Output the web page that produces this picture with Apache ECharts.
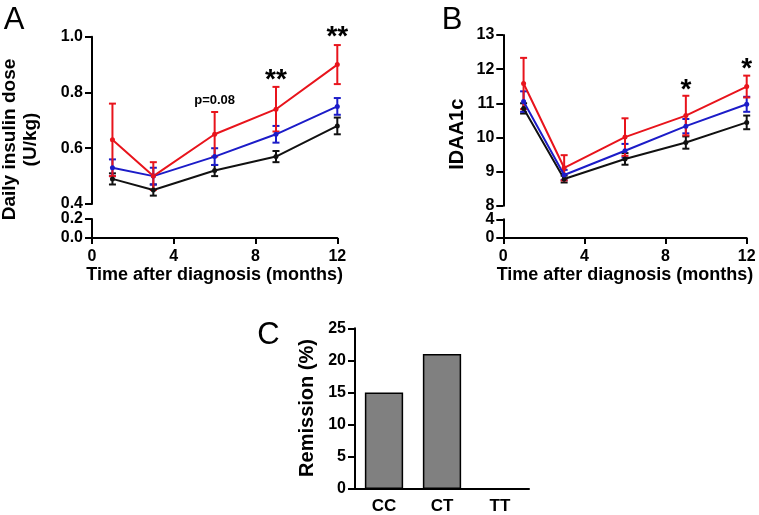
<!DOCTYPE html>
<html>
<head>
<meta charset="utf-8">
<script src="https://cdn.jsdelivr.net/npm/echarts@6/dist/echarts.min.js"></script>
<style>
html,body{margin:0;padding:0;background:#fff;}
#c{width:759px;height:515px;}
</style>
</head>
<body>
<div id="c"></div>
<script>
// ---- Data ----
const months = [1, 3, 6, 9, 12];
// Panel A: daily insulin dose (U/kg)
const aBlackMean = [0.49, 0.45, 0.52, 0.57, 0.68];
const aBlackErr  = [0.02, 0.02, 0.02, 0.02, 0.03];
const aBlueMean  = [0.53, 0.50, 0.57, 0.65, 0.75];
const aBlueErr   = [0.03, 0.03, 0.03, 0.03, 0.03];
const aRedMean   = [0.63, 0.50, 0.65, 0.74, 0.90];
const aRedErr    = [0.13, 0.05, 0.08, 0.08, 0.07];
const aNoteX = [6, 9, 12];
const aNoteY = [0.773, 0.842, 0.998];
const aNoteText = ['p=0.08', '**', '**'];
// Panel B: IDAA1c
const bBlackMean = [10.85, 8.78, 9.37, 9.85, 10.44];
const bBlackErr  = [0.15, 0.10, 0.17, 0.18, 0.20];
const bBlueMean  = [11.05, 8.90, 9.61, 10.33, 10.97];
const bBlueErr   = [0.30, 0.15, 0.20, 0.21, 0.22];
const bRedMean   = [11.58, 9.11, 10.01, 10.64, 11.49];
const bRedErr    = [0.75, 0.37, 0.55, 0.58, 0.32];
const bNoteX = [9, 12];
const bNoteY = [11.37, 12.0];
const bNoteText = ['*', '*'];
// Panel C: remission (%)
const genotypes = ['CC', 'CT', 'TT'];
const remission = [15, 21, 0];
// Tick settings
const xTicks = {min: 0, max: 12, interval: 4};

const FONT = '"Liberation Sans", Arial, Helvetica, sans-serif';
const RED = '#e8141c', BLUE = '#1c1cc8', BLACK = '#111111';

const chart = echarts.init(document.getElementById('c'), null, {renderer: 'canvas'});

function lineData(mean) { return months.map((m, i) => [m, mean[i]]); }
function errData(mean, err) { return months.map((m, i) => [m, mean[i] - err[i], mean[i] + err[i]]); }
function errSeries(mean, err, color, gi) {
  return {
    type: 'custom', xAxisIndex: gi, yAxisIndex: gi, z: 3,
    data: errData(mean, err),
    encode: {x: 0, y: [1, 2]},
    renderItem: function (params, api) {
      const x = api.value(0);
      const p1 = api.coord([x, api.value(2)]);
      const p2 = api.coord([x, api.value(1)]);
      const w = 3.5;
      const st = {stroke: color, lineWidth: 2};
      return {type: 'group', children: [
        {type: 'line', shape: {x1: p1[0], y1: p1[1], x2: p2[0], y2: p2[1]}, style: st},
        {type: 'line', shape: {x1: p1[0] - w, y1: p1[1], x2: p1[0] + w, y2: p1[1]}, style: st},
        {type: 'line', shape: {x1: p2[0] - w, y1: p2[1], x2: p2[0] + w, y2: p2[1]}, style: st}
      ]};
    },
    silent: true
  };
}
function lineSeries(mean, color, gi) {
  return {
    type: 'line', xAxisIndex: gi, yAxisIndex: gi, z: 4,
    data: lineData(mean),
    symbol: 'circle', symbolSize: 5,
    itemStyle: {color: color},
    lineStyle: {color: color, width: 2},
    animation: false
  };
}
function noteSeries(xs, ys, texts, gi, size) {
  return {
    type: 'scatter', xAxisIndex: gi, yAxisIndex: gi, z: 6,
    symbolSize: 0, clip: false,
    itemStyle: {opacity: 1},
    data: xs.map((x, i) => [x, ys[i], texts[i]]),
    label: {
      show: true, position: 'inside', opacity: 1,
      formatter: p => p.value[2],
      color: '#000', fontFamily: FONT, fontWeight: 'bold',
      fontSize: size
    }
  };
}
function notes(xs, ys, texts, gi) {
  const out = [];
  const starIdx = [], pIdx = [];
  texts.forEach((t, i) => (t.indexOf('*') >= 0 ? starIdx : pIdx).push(i));
  if (starIdx.length) out.push(noteSeries(starIdx.map(i => xs[i]), starIdx.map(i => ys[i]), starIdx.map(i => texts[i]), gi, 28));
  if (pIdx.length) out.push(noteSeries(pIdx.map(i => xs[i]), pIdx.map(i => ys[i]), pIdx.map(i => texts[i]), gi, 13));
  return out;
}

const axisLine = {show: true, onZero: false, lineStyle: {color: '#000', width: 2}};
const axisTick = {show: true, inside: false, length: 7, lineStyle: {color: '#000', width: 2}};
const tickLabel = {color: '#000', fontFamily: FONT, fontWeight: 'bold', fontSize: 16};

function upperX(gi) {
  return {type: 'value', gridIndex: gi, min: xTicks.min, max: xTicks.max, interval: xTicks.interval, show: false};
}
function lowerX(gi) {
  return {
    type: 'value', gridIndex: gi, min: xTicks.min, max: xTicks.max, interval: xTicks.interval,
    axisLine: axisLine, axisTick: Object.assign({}, axisTick, {length: 6}),
    axisLabel: Object.assign({}, tickLabel, {margin: 11}),
    splitLine: {show: false},
    name: 'Time after diagnosis (months)', nameLocation: 'middle', nameGap: 27,
    nameTextStyle: {color: '#000', fontFamily: FONT, fontWeight: 'bold', fontSize: 18}
  };
}
function yAx(gi, min, max, interval, fmt) {
  return {
    type: 'value', gridIndex: gi, min: min, max: max, interval: interval,
    axisLine: axisLine, axisTick: axisTick,
    axisLabel: Object.assign({}, tickLabel, {margin: 9, formatter: fmt}),
    splitLine: {show: false}
  };
}

const option = {
  backgroundColor: '#fff',
  animation: false,
  grid: [
    {left: 92, top: 36.7, width: 245.3, height: 167.3},   // 0: A upper
    {left: 92, top: 219, width: 245.3, height: 19},       // 1: A lower
    {left: 503.3, top: 35, width: 243.4, height: 170.7},  // 2: B upper
    {left: 503.3, top: 219.3, width: 243.4, height: 18.7},// 3: B lower
    {left: 355, top: 328.3, width: 174, height: 161.7}    // 4: C
  ],
  xAxis: [
    upperX(0), lowerX(1), upperX(2), lowerX(3),
    {
      type: 'category', gridIndex: 4, data: genotypes,
      axisLine: axisLine, axisTick: {show: false},
      axisLabel: Object.assign({}, tickLabel, {fontSize: 17, margin: 9})
    }
  ],
  yAxis: [
    yAx(0, 0.4, 1.0, 0.2, v => v.toFixed(1)),
    yAx(1, 0, 0.2, 0.2, v => v.toFixed(1)),
    yAx(2, 8, 13, 1, v => String(v)),
    yAx(3, 0, 4, 4, v => String(v)),
    yAx(4, 0, 25, 5, v => String(v))
  ],
  series: [
    errSeries(aBlackMean, aBlackErr, BLACK, 0), lineSeries(aBlackMean, BLACK, 0),
    errSeries(aBlueMean, aBlueErr, BLUE, 0), lineSeries(aBlueMean, BLUE, 0),
    errSeries(aRedMean, aRedErr, RED, 0), lineSeries(aRedMean, RED, 0),
    ...notes(aNoteX, aNoteY, aNoteText, 0),
    errSeries(bBlackMean, bBlackErr, BLACK, 2), lineSeries(bBlackMean, BLACK, 2),
    errSeries(bBlueMean, bBlueErr, BLUE, 2), lineSeries(bBlueMean, BLUE, 2),
    errSeries(bRedMean, bRedErr, RED, 2), lineSeries(bRedMean, RED, 2),
    ...notes(bNoteX, bNoteY, bNoteText, 2),
    {
      type: 'bar', xAxisIndex: 4, yAxisIndex: 4, data: remission,
      barWidth: '66%',
      itemStyle: {color: '#808080', borderColor: '#000', borderWidth: 1.5}
    }
  ],
  graphic: [
    {type: 'text', x: 14.2, y: 20.5, style: {text: 'A', font: '31px ' + FONT, fill: '#000', textAlign: 'center', textVerticalAlign: 'middle', align: 'center', verticalAlign: 'middle'}},
    {type: 'text', x: 452, y: 20.5, style: {text: 'B', font: '31px ' + FONT, fill: '#000', textAlign: 'center', textVerticalAlign: 'middle', align: 'center', verticalAlign: 'middle'}},
    {type: 'text', x: 268.5, y: 335.5, style: {text: 'C', font: '31px ' + FONT, fill: '#000', textAlign: 'center', textVerticalAlign: 'middle', align: 'center', verticalAlign: 'middle'}},
    {type: 'text', x: 20.5, y: 139.5, rotation: Math.PI / 2, style: {text: 'Daily insulin dose\n(U/kg)', font: 'bold 19px ' + FONT, lineHeight: 21, fill: '#000', textAlign: 'center', textVerticalAlign: 'middle', align: 'center', verticalAlign: 'middle'}},
    {type: 'text', x: 457, y: 134.2, rotation: Math.PI / 2, style: {text: 'IDAA1c', font: 'bold 20px ' + FONT, fill: '#000', textAlign: 'center', textVerticalAlign: 'middle', align: 'center', verticalAlign: 'middle'}},
    {type: 'text', x: 307.5, y: 408, rotation: Math.PI / 2, style: {text: 'Remission (%)', font: 'bold 20px ' + FONT, fill: '#000', textAlign: 'center', textVerticalAlign: 'middle', align: 'center', verticalAlign: 'middle'}}
  ]
};
chart.setOption(option);
</script>
</body>
</html>
